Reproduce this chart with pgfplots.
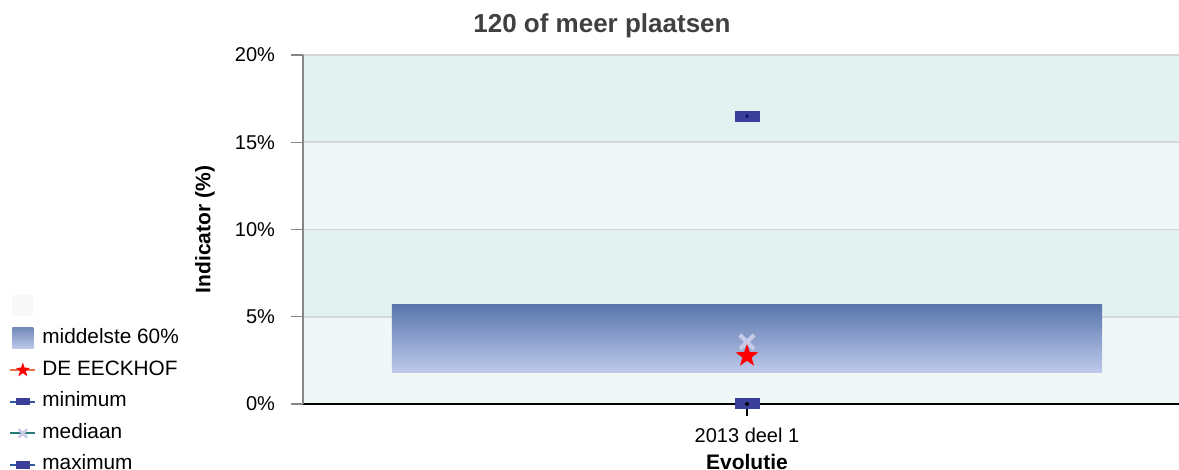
\documentclass[border=0pt]{standalone}
\usepackage{fontspec}
\setmainfont{Liberation Sans}
\usepackage{pgfplots}
\pgfplotsset{compat=1.18}
\definecolor{bandA}{RGB}{225,242,241}
\definecolor{bandB}{RGB}{240,248,247}
\definecolor{gridgray}{RGB}{215,215,215}
\definecolor{axisgray}{RGB}{134,134,134}
\definecolor{boxtop}{RGB}{88,117,172}
\definecolor{boxbot}{RGB}{190,201,235}
\definecolor{markblue}{RGB}{59,63,153}
\definecolor{dotblue}{RGB}{15,20,110}
\definecolor{medx}{RGB}{200,204,232}
\definecolor{titlegray}{RGB}{64,64,64}
\definecolor{legorange}{RGB}{232,112,72}
\definecolor{legblue}{RGB}{46,90,160}
\definecolor{legteal}{RGB}{40,120,120}
\definecolor{emptysq}{RGB}{248,248,248}
\pgfdeclareplotmark{fstar}{%
  \pgfpathmoveto{\pgfpointpolar{90}{\pgfplotmarksize}}%
  \pgfpathlineto{\pgfpointpolar{126}{0.40\pgfplotmarksize}}%
  \pgfpathlineto{\pgfpointpolar{162}{\pgfplotmarksize}}%
  \pgfpathlineto{\pgfpointpolar{198}{0.40\pgfplotmarksize}}%
  \pgfpathlineto{\pgfpointpolar{234}{\pgfplotmarksize}}%
  \pgfpathlineto{\pgfpointpolar{270}{0.40\pgfplotmarksize}}%
  \pgfpathlineto{\pgfpointpolar{306}{\pgfplotmarksize}}%
  \pgfpathlineto{\pgfpointpolar{342}{0.40\pgfplotmarksize}}%
  \pgfpathlineto{\pgfpointpolar{18}{\pgfplotmarksize}}%
  \pgfpathlineto{\pgfpointpolar{54}{0.40\pgfplotmarksize}}%
  \pgfpathclose\pgfusepathqfill}
\pgfplotstableread{
x y
-0.4 1.83
0.4 1.83
0.4 5.73
-0.4 5.73
}\boxtab
\pgfplotstableread{
x y
0 16.5
}\maxtab
\pgfplotstableread{
x y
0 0
}\mintab
\pgfplotstableread{
x y
0 3.55
}\medtab
\pgfplotstableread{
x y
0 2.75
}\owntab
\begin{document}
\begin{tikzpicture}
\begin{axis}[
  set layers,
  at={(151.5pt,33pt)}, anchor=south west,
  scale only axis, width=438pt, height=174.5pt,
  xmin=-0.5, xmax=0.4865, ymin=0, ymax=20,
  axis lines*=left,
  x axis line style={black, line width=0.75pt},
  y axis line style={axisgray, line width=0.75pt},
  tick align=outside, major tick length=6pt,
  x tick style={black, line width=0.6pt},
  y tick style={axisgray, line width=0.6pt},
  ytick={0,5,10,15,20}, yticklabels={0\%,5\%,10\%,15\%,20\%},
  xtick={0}, xticklabels={2013 deel 1},
  ymajorgrids, grid style={gridgray, line width=0.9pt},
  /pgf/number format/assume math mode=true,
  tick label style={font=\fontsize{10}{12}\selectfont},
  yticklabel style={xshift=-4.5pt},
  xticklabel style={yshift=-2.5pt},
  title={120 of meer plaatsen},
  title style={at={(axis description cs:0.3413,1.049)}, anchor=center, yshift=0pt, font=\fontsize{13}{15}\selectfont\bfseries, text=titlegray},
  ylabel={Indicator (\%)},
  ylabel style={at={(axis description cs:-0.1119,0.5)}, anchor=center, font=\fontsize{10.5}{12}\selectfont\bfseries},
  xlabel={Evolutie},
  xlabel style={at={(axis description cs:0.5068,-0.1662)}, anchor=center, font=\fontsize{10.5}{12}\selectfont\bfseries},
  clip=false,
  legend style={at={(axis description cs:-0.3425,0.325)}, anchor=north west, draw=none, fill=none,
    font=\fontsize{10.4}{12}\selectfont, row sep=5.8pt, column sep=3pt,
    nodes={inner sep=0pt, text height=7.5pt, text depth=2.5pt}},
  legend cell align=left,
]
% bands (stacked from the top down, each filled to the x axis)
\addplot[on layer=axis background, fill=bandA, draw=none, forget plot] coordinates {(-0.5,20) (0.4865,20)} \closedcycle;
\addplot[on layer=axis background, fill=bandB, draw=none, forget plot] coordinates {(-0.5,15) (0.4865,15)} \closedcycle;
\addplot[on layer=axis background, fill=bandA, draw=none, forget plot] coordinates {(-0.5,10) (0.4865,10)} \closedcycle;
\addplot[on layer=axis background, fill=bandB, draw=none, forget plot] coordinates {(-0.5,5) (0.4865,5)} \closedcycle;
% middle 60% box
\addplot[draw=none, top color=boxtop, bottom color=boxbot, forget plot] table[x=x,y=y] {\boxtab} --cycle;
% min / max
\addplot[only marks, mark=square*, mark size=2.5pt, mark options={xscale=2.4, fill=markblue, draw=markblue, line width=0pt}, forget plot] table[x=x,y=y] {\mintab};
\addplot[only marks, mark=*, mark size=0.9pt, mark options={fill=black, draw=black, line width=0pt}, forget plot] table[x=x,y=y] {\mintab};
\addplot[only marks, mark=square*, mark size=2.5pt, mark options={xscale=2.4, fill=markblue, draw=markblue, line width=0pt}, forget plot] table[x=x,y=y] {\maxtab};
\addplot[only marks, mark=*, mark size=0.9pt, mark options={fill=dotblue, draw=dotblue, line width=0pt}, forget plot] table[x=x,y=y] {\maxtab};
% median
\addplot[only marks, mark=x, mark size=5pt, mark options={draw=medx, line width=2pt}, forget plot] table[x=x,y=y] {\medtab};
% own value
\addplot[only marks, mark=fstar, mark size=6pt, mark options={fill=red, draw=none}, forget plot] table[x=x,y=y] {\owntab};
% legend
\addlegendimage{legend image code/.code={\path[draw=none,fill=none] (0,-5pt) rectangle (12.5pt,5pt); \fill[emptysq, draw=none] (1pt,-5.25pt) rectangle (11.5pt,5.25pt);}}
\addlegendentry{}
\addlegendimage{legend image code/.code={\path[draw=none,fill=none] (0,-5pt) rectangle (12.5pt,5pt); \shade[draw=none, top color=boxtop!85, bottom color=boxbot] (1pt,-5.25pt) rectangle (11.5pt,5.25pt);}}
\addlegendentry{middelste 60\%}
\addlegendimage{legend image code/.code={\path[draw=none,fill=none] (0,-5pt) rectangle (12.5pt,5pt); \draw[legorange, line width=1pt] (0,0) -- (12.5pt,0); \draw plot[mark=fstar, mark size=3.8pt, mark options={fill=red, draw=none}] coordinates {(6.25pt,0)};}}
\addlegendentry{DE EECKHOF}
\addlegendimage{legend image code/.code={\path[draw=none,fill=none] (0,-5pt) rectangle (12.5pt,5pt); \draw[legblue, line width=1pt] (0,0) -- (12.5pt,0); \draw plot[mark=square*, mark size=1.6pt, mark options={xscale=2, fill=markblue, draw=markblue, line width=0pt}] coordinates {(6.25pt,0)};}}
\addlegendentry{minimum}
\addlegendimage{legend image code/.code={\path[draw=none,fill=none] (0,-5pt) rectangle (12.5pt,5pt); \draw[legteal, line width=1pt] (0,0) -- (12.5pt,0); \draw plot[mark=x, mark size=3pt, mark options={draw=medx, line width=1.4pt}] coordinates {(6.25pt,0)};}}
\addlegendentry{mediaan}
\addlegendimage{legend image code/.code={\path[draw=none,fill=none] (0,-5pt) rectangle (12.5pt,5pt); \draw[legblue, line width=1pt] (0,0) -- (12.5pt,0); \draw plot[mark=square*, mark size=1.6pt, mark options={xscale=2, fill=markblue, draw=markblue, line width=0pt}] coordinates {(6.25pt,0)};}}
\addlegendentry{maximum}
\end{axis}
\pgfresetboundingbox
\useasboundingbox (0,0) rectangle (589.5pt,235pt);
\end{tikzpicture}
\end{document}
